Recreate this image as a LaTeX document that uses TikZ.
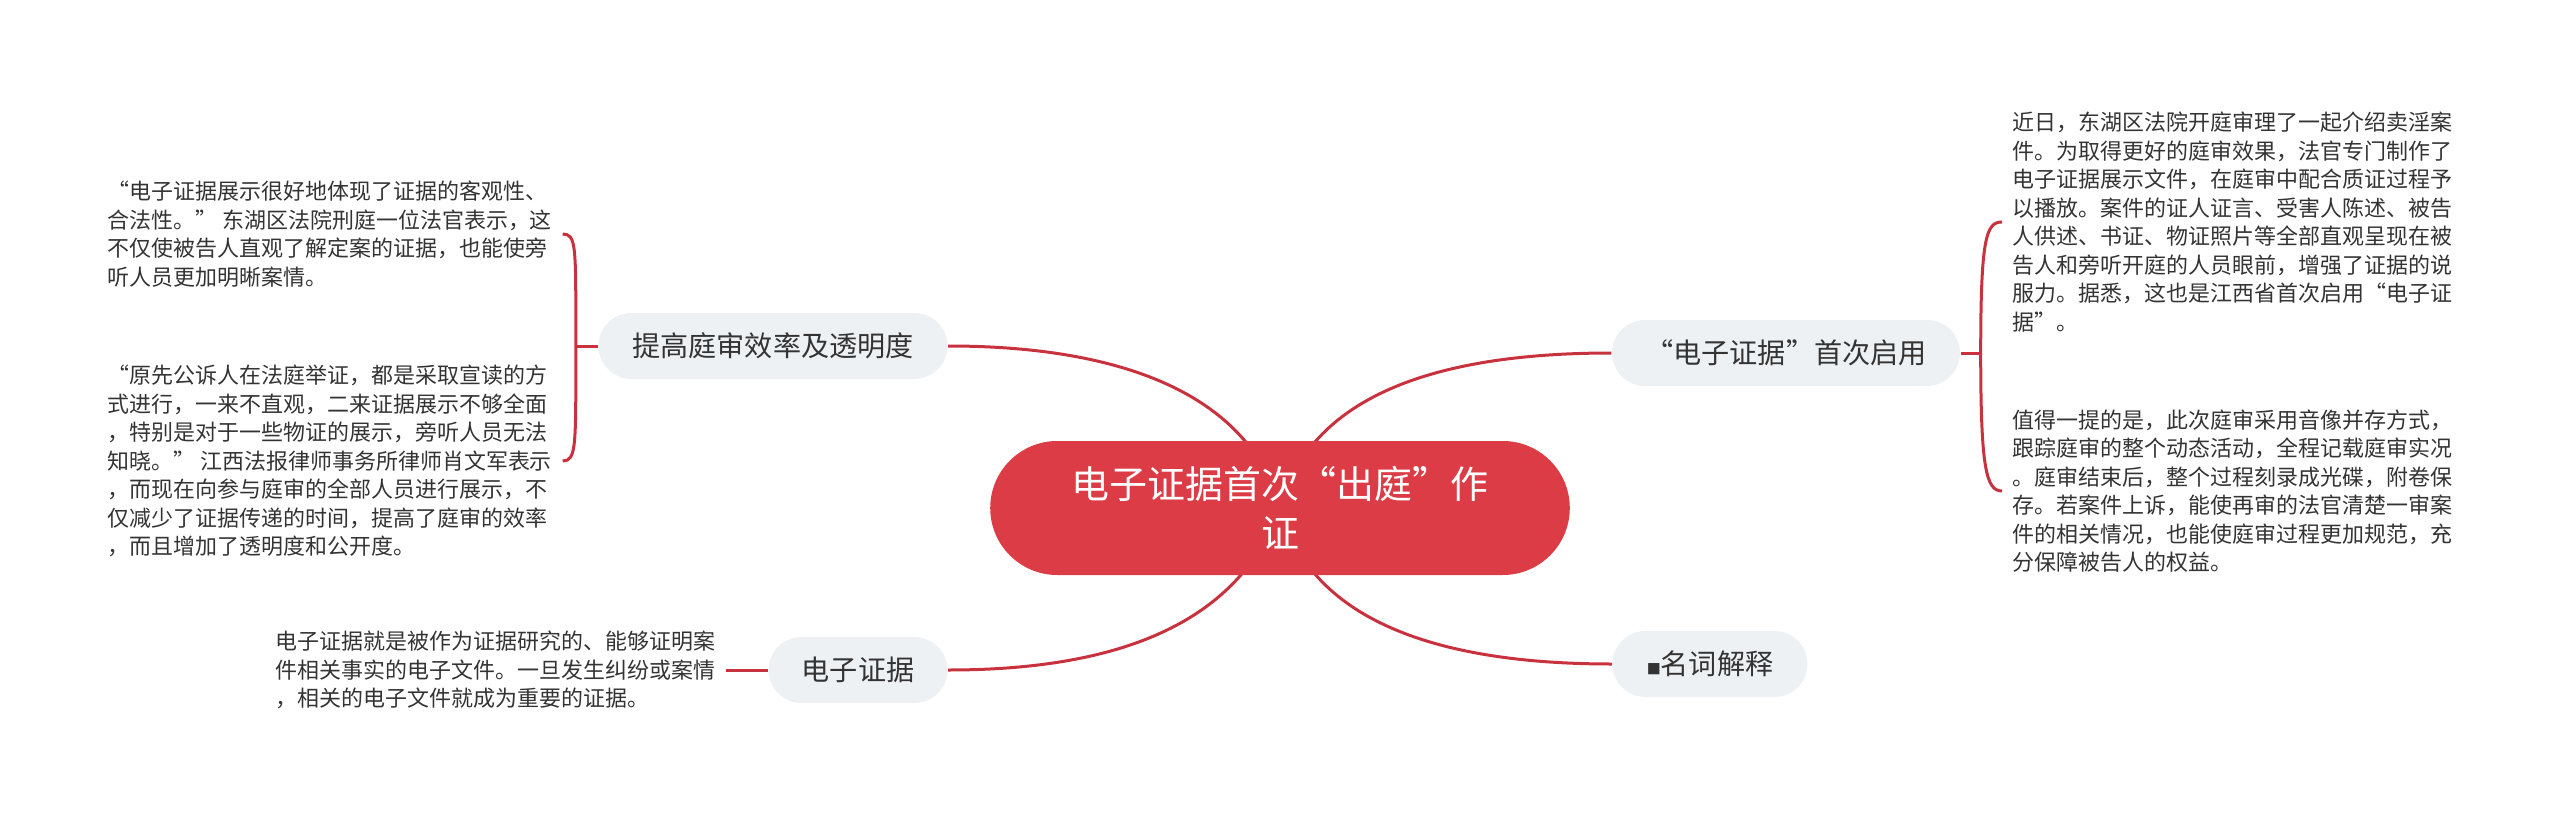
\documentclass[tikz,border=0pt]{standalone}
\usepackage{fontspec}
\setmainfont{Noto Sans CJK SC}
\usepackage{xcolor}
\usepackage{tikz}
\usetikzlibrary{backgrounds, shapes.misc}

\definecolor{rootred}{HTML}{DC3C46}
\definecolor{linkred}{HTML}{C8323E}
\definecolor{topicgray}{HTML}{EEF1F4}
\definecolor{textgray}{HTML}{333333}

\tikzset{
    rootnode/.style={rounded rectangle, fill=rootred, text=white, align=center,
        minimum width=60.3mm, minimum height=13.4mm,
        font=\fontsize{10.8pt}{13.9pt}\selectfont},
    topicnode/.style={rounded rectangle, fill=topicgray, text=textgray,
        minimum height=6.6mm, inner xsep=0pt,
        font=\fontsize{8pt}{9pt}\selectfont},
    leafnode/.style={align=left, text=textgray, inner xsep=1mm, inner ysep=0pt,
        font=\fontsize{6.25pt}{8.1pt}\selectfont},
    link/.style={draw=linkred, line width=0.3mm},
}

\begin{document}
\begin{tikzpicture}[x=0.1mm, y=-0.1mm]

    % =================================================================
    % 1. KHUNG HÌNH (pixel units, y downwards)
    % =================================================================
    \path[use as bounding box] (0,0) rectangle (2560,819);

    % =================================================================
    % 2. CHỦ ĐỀ TRUNG TÂM VÀ CÁC NHÁNH
    % =================================================================
    \node[rootnode] (root) at (1280,508) {电子证据首次“出庭”作\\证};

    \node[topicnode, minimum width=34.9mm] (eff)   at (773,346)  {提高庭审效率及透明度};
    \node[topicnode, minimum width=34.8mm] (first) at (1786,353) {“电子证据”首次启用};
    \node[topicnode, minimum width=17.9mm] (ezj)   at (858,670)  {电子证据};
    \node[topicnode, minimum width=19.5mm] (term)  at (1710,664) {{\fontsize{4pt}{4pt}\selectfont ■}名词解释};

    % =================================================================
    % 3. CÁC ĐOẠN VĂN BẢN CHI TIẾT
    % =================================================================
    \node[leafnode, anchor=west] (lt) at (97,234) {%
        “电子证据展示很好地体现了证据的客观性、\\
        合法性。” 东湖区法院刑庭一位法官表示，这\\
        不仅使被告人直观了解定案的证据，也能使旁\\
        听人员更加明晰案情。};
    \node[leafnode, anchor=west] (lb) at (97,461) {%
        “原先公诉人在法庭举证，都是采取宣读的方\\
        式进行，一来不直观，二来证据展示不够全面\\
        ，特别是对于一些物证的展示，旁听人员无法\\
        知晓。” 江西法报律师事务所律师肖文军表示\\
        ，而现在向参与庭审的全部人员进行展示，不\\
        仅减少了证据传递的时间，提高了庭审的效率\\
        ，而且增加了透明度和公开度。};
    \node[leafnode, anchor=east] (bl) at (726,670) {%
        电子证据就是被作为证据研究的、能够证明案\\
        件相关事实的电子文件。一旦发生纠纷或案情\\
        ，相关的电子文件就成为重要的证据。};
    \node[leafnode, anchor=west] (rt) at (2002,222) {%
        近日，东湖区法院开庭审理了一起介绍卖淫案\\
        件。为取得更好的庭审效果，法官专门制作了\\
        电子证据展示文件，在庭审中配合质证过程予\\
        以播放。案件的证人证言、受害人陈述、被告\\
        人供述、书证、物证照片等全部直观呈现在被\\
        告人和旁听开庭的人员眼前，增强了证据的说\\
        服力。据悉，这也是江西省首次启用“电子证\\
        据”。};
    \node[leafnode, anchor=west] (rb) at (2002,491) {%
        值得一提的是，此次庭审采用音像并存方式，\\
        跟踪庭审的整个动态活动，全程记载庭审实况\\
        。庭审结束后，整个过程刻录成光碟，附卷保\\
        存。若案件上诉，能使再审的法官清楚一审案\\
        件的相关情况，也能使庭审过程更加规范，充\\
        分保障被告人的权益。};

    % =================================================================
    % 4. ĐƯỜNG NỐI
    % =================================================================
    \begin{pgfonlayer}{background}
        % từ trung tâm ra bốn nhánh
        \draw[link] (root.center) .. controls +(-30,-110) and +(180,0) .. (eff.east);
        \draw[link] (root.center) .. controls +(30,-110) and +(-180,0) .. (first.west);
        \draw[link] (root.center) .. controls +(-40,110) and +(180,0) .. (ezj.east);
        \draw[link] (root.center) .. controls +(30,110) and +(-180,0) .. (term.west);
    \end{pgfonlayer}

    % ngoặc bên trái
    \draw[link] (eff.west) -- ++(-22,0) coordinate (lfork);
    \draw[link] (lfork) .. controls +(0,-100) and +(14,0) .. (lt.east);
    \draw[link] (lfork) .. controls +(0,100) and +(14,0) .. (lb.east);

    % ngoặc bên phải
    \draw[link] (first.east) -- ++(20,0) coordinate (rfork);
    \draw[link] (rfork) .. controls +(0,-115) and +(-16,0) .. (rt.west);
    \draw[link] (rfork) .. controls +(0,115) and +(-16,0) .. (rb.west);

    % nhánh dưới trái
    \draw[link] (bl.east) -- (ezj.west);

\end{tikzpicture}
\end{document}
